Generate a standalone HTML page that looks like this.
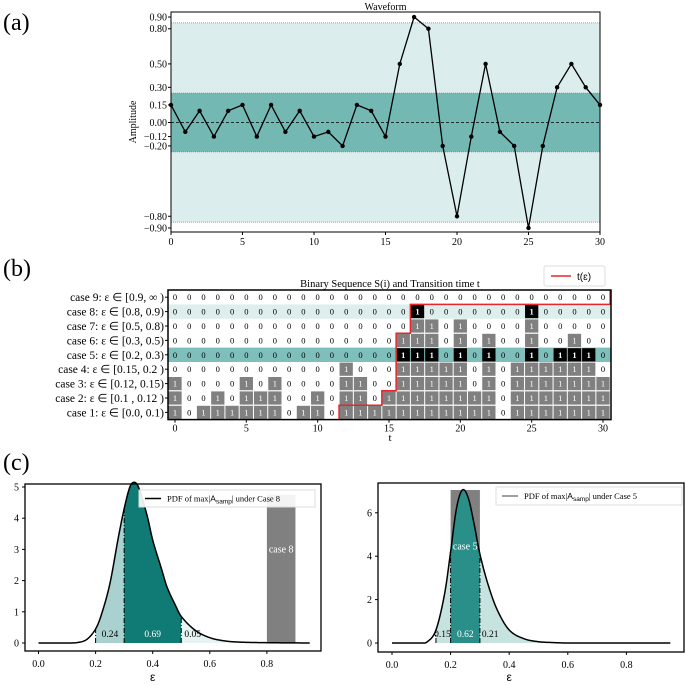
<!DOCTYPE html>
<html><head><meta charset="utf-8">
<style>
body{margin:0;background:#fff;}
svg{display:block;font-family:"Liberation Serif",serif;}
</style></head>
<body>
<svg id="fig" width="685" height="685" viewBox="0 0 685 685" xmlns="http://www.w3.org/2000/svg">
<text x="3" y="30" font-size="24">(a)</text>
<text x="3" y="276" font-size="24">(b)</text>
<text x="3" y="470" font-size="24">(c)</text>
<g id="pa"></g>
<g id="pb"></g>
<g id="pc1"></g>
<g id="pc2"></g>
</svg>
<script>
// ---- data (a)
const waveT = [0,1,2,3,4,5,6,7,8,9,10,11,12,13,14,15,16,17,18,19,20,21,22,23,24,25,26,27,28,29,30];
const waveA = [0.15,-0.08,0.1,-0.12,0.1,0.15,-0.12,0.15,-0.08,0.1,-0.12,-0.08,-0.2,0.15,0.1,-0.12,0.5,0.9,0.8,-0.2,-0.8,-0.12,0.5,-0.08,-0.2,-0.9,-0.2,0.3,0.5,0.3,0.15];
const waveYTicks = [0.9,0.8,0.5,0.3,0.15,0,-0.12,-0.2,-0.8,-0.9];
const waveYTickLabels = ["0.90","0.80","0.50","0.30","0.15","0.00","\u22120.12","\u22120.20","\u22120.80","\u22120.90"];
const waveXTicks = [0,5,10,15,20,25,30];
const innerBand = [-0.25,0.25];
const outerBand = [-0.85,0.85];
// ---- data (b)
const caseLabels = ["case 1: \u03b5 \u2208 [0.0, 0.1)","case 2: \u03b5 \u2208 [0.1 , 0.12 )","case 3: \u03b5 \u2208 [0.12, 0.15)","case 4: \u03b5 \u2208 [0.15,  0.2 )","case 5: \u03b5 \u2208 [0.2, 0.3)","case 6: \u03b5 \u2208 [0.3, 0.5)","case 7: \u03b5 \u2208 [0.5, 0.8)","case 8: \u03b5 \u2208 [0.8, 0.9)","case 9: \u03b5 \u2208 [0.9,  \u221e )"];
const seqRows = [
"1011111101101111111111101111111",
"1001011100101101111111101111111",
"1000010100001100111110101111111",
"0000000000001000111110101111110",
"0000000000000000111010100101110",
"0000000000000000111010100100100",
"0000000000000000011010000100000",
"0000000000000000010000000100000",
"0000000000000000000000000000000"];
const transitionT = [11.5,14.5,15.5,16.5,30.5];
const transitionRows = [1,2,6,8,9];
const seqXTicks = [0,5,10,15,20,25,30];
// ---- data (c)
const pdf8E = [0,0.1,0.14,0.17,0.2,0.22,0.25,0.28,0.3,0.32,0.335,0.35,0.38,0.4,0.43,0.45,0.48,0.5,0.55,0.6,0.65,0.7,0.8,0.95];
const pdf8V = [0,0,0.02,0.12,0.45,0.9,1.9,3.4,4.3,5.0,5.15,5.0,4.1,3.3,2.4,1.8,1.2,0.85,0.4,0.17,0.07,0.03,0.01,0];
const pdf8Mass = ["0.24","0.69","0.05"];
const pdf5E = [0,0.1,0.12,0.15,0.18,0.2,0.22,0.24,0.26,0.28,0.3,0.33,0.36,0.4,0.45,0.5,0.55,0.6,0.95];
const pdf5V = [0,0,0.05,0.6,2.3,4.2,6.2,7.05,6.7,5.5,4.1,2.6,1.5,0.6,0.2,0.06,0.02,0,0];
const pdf5Mass = ["0.15","0.62","0.21"];
const pdfXTicks = [0,0.2,0.4,0.6,0.8];

const NS="http://www.w3.org/2000/svg";
function mk(p,tag,at,txt){const e=document.createElementNS(NS,tag);for(const k in at)e.setAttribute(k,at[k]);if(txt!==undefined)e.textContent=txt;p.appendChild(e);return e;}

// ===== Panel a
(function(){
const g=document.getElementById('pa');
const x0=171,x1=600,yT=12,yB=232;
const X=t=>x0+(t-0)/30*(x1-x0);
const Y=a=>122.5-a*117.2;
let r;
r=mk(g,'rect',{x:x0,y:Y(outerBand[1]),width:x1-x0,height:Y(outerBand[0])-Y(outerBand[1]),fill:'#dbeeed'});

r=mk(g,'rect',{x:x0,y:Y(innerBand[1]),width:x1-x0,height:Y(innerBand[0])-Y(innerBand[1]),fill:'#74b8b4'});

[outerBand[0],outerBand[1],innerBand[0],innerBand[1]].forEach(v=>mk(g,'line',{x1:x0,x2:x1,y1:Y(v),y2:Y(v),stroke:'#4a9a95','stroke-width':0.8,'stroke-dasharray':'1,1'}));
mk(g,'line',{x1:x0,x2:x1,y1:Y(0),y2:Y(0),stroke:'#000','stroke-width':0.8,'stroke-dasharray':'3,2'});
const pts=waveT.map((t,i)=>X(t)+','+Y(waveA[i])).join(' ');
r=mk(g,'polyline',{points:pts,fill:'none',stroke:'#000','stroke-width':1.3});

waveT.forEach((t,i)=>{const c=mk(g,'circle',{cx:X(t),cy:Y(waveA[i]),r:2.2,fill:'#000'});
});
mk(g,'rect',{x:x0,y:yT,width:x1-x0,height:yB-yT,fill:'none',stroke:'#000','stroke-width':1});
waveYTicks.forEach((v,i)=>{mk(g,'line',{x1:x0-3,x2:x0,y1:Y(v),y2:Y(v),stroke:'#000'});
const t=mk(g,'text',{x:x0-4,y:Y(v)+3.5,'font-size':10,'text-anchor':'end'},waveYTickLabels[i]);
});
waveXTicks.forEach(v=>{mk(g,'line',{x1:X(v),x2:X(v),y1:yB,y2:yB+3,stroke:'#000'});
const t=mk(g,'text',{x:X(v),y:yB+13,'font-size':10,'text-anchor':'middle'},v);
});
let t=mk(g,'text',{x:x0+(x1-x0)/2,y:10,'font-size':10,'text-anchor':'middle'},'Waveform');

t=mk(g,'text',{x:0,y:0,'font-size':10,'text-anchor':'middle',transform:'translate(136,122) rotate(-90)'},'Amplitude');

})();

// ===== Panel b
(function(){
const g=document.getElementById('pb');
const x0=168,x1=611,yT=290,yB=419.6,rh=(yB-yT)/9;
const X=t=>175+t*(603-175)/30;
const rowTop=i=>yB-(i+1)*rh;
const cw=X(1)-X(0);
let e;
e=mk(g,'rect',{x:x0,y:rowTop(7),width:x1-x0,height:rh,fill:'#ddeeed'});

e=mk(g,'rect',{x:x0,y:rowTop(4),width:x1-x0,height:rh,fill:'#7fbfbb'});

seqRows.forEach((s,i)=>{
 for(let t=0;t<=30;t++){
  const v=s[t];const cx=X(t),cy=rowTop(i)+rh/2;
  if(v==='1'){
   const black=(i===4||i===7);
   const c=mk(g,'rect',{x:cx-cw/2+0.5,y:rowTop(i)+0.6,width:cw-1,height:rh-1.2,fill:black?'#000':'#808080'});
   
  }
  const tx=mk(g,'text',{x:cx,y:cy+3,'font-size':8.5,'text-anchor':'middle',fill:v==='1'?'#fff':'#000','font-weight':(v==='1'&&(i===4||i===7))?'bold':'normal'},v);
  
 }
 const lb=mk(g,'text',{x:x0-4,y:rowTop(i)+rh/2+4,'font-size':11.5,'text-anchor':'end'},caseLabels[i]);
 
 mk(g,'line',{x1:x0-3,x2:x0,y1:rowTop(i)+rh/2,y2:rowTop(i)+rh/2,stroke:'#000'});
});
let d='M'+X(transitionT[0])+','+yB;
transitionT.forEach((tt,k)=>{
 d+=' L'+X(tt)+','+(yB-transitionRows[k]*rh);
 if(k<transitionT.length-1) d+=' L'+X(transitionT[k+1])+','+(yB-transitionRows[k]*rh);
});
e=mk(g,'path',{d:d,fill:'none',stroke:'#e8262a','stroke-width':1.5});

mk(g,'rect',{x:x0,y:yT,width:x1-x0,height:yB-yT,fill:'none',stroke:'#000','stroke-width':1.5});
seqXTicks.forEach(v=>{mk(g,'line',{x1:X(v),x2:X(v),y1:yB,y2:yB+3,stroke:'#000'});
const t=mk(g,'text',{x:X(v),y:yB+12,'font-size':10,'text-anchor':'middle'},v);
});
let t=mk(g,'text',{x:390,y:287,'font-size':10.5,'text-anchor':'middle'},'Binary Sequence S(i) and Transition time t');

t=mk(g,'text',{x:390,y:441,'font-size':11,'text-anchor':'middle'},'t');

e=mk(g,'rect',{x:544,y:266,width:61,height:20,fill:'#fff',stroke:'#ddd',rx:2});

mk(g,'line',{x1:551,x2:571,y1:276,y2:276,stroke:'#e8262a','stroke-width':1.5});
t=mk(g,'text',{x:577,y:280,'font-size':10,'font-family':'Liberation Sans, sans-serif'},'t(\u025b)');

})();

// ===== Panel c
function pdfPanel(gid,cfg){
const g=document.getElementById(gid);
const X=e=>cfg.xz+e*cfg.xs, Y=v=>cfg.yz-v*cfg.ys;
const E=cfg.E,V=cfg.V;
const interp=e=>{for(let i=1;i<E.length;i++){if(e<=E[i]){
  const f=(e-E[i-1])/(E[i]-E[i-1]);
  const h=E[i]-E[i-1];
  const m0=i>1?(V[i]-V[i-2])/(E[i]-E[i-2])*h:(V[i]-V[i-1]);
  const m1=i<E.length-1?(V[i+1]-V[i-1])/(E[i+1]-E[i-1])*h:(V[i]-V[i-1]);
  const f2=f*f,f3=f2*f;
  const val=(2*f3-3*f2+1)*V[i-1]+(f3-2*f2+f)*m0+(-2*f3+3*f2)*V[i]+(f3-f2)*m1;
  return Math.max(0,val);}}return 0;};
const curvePath=(a,b)=>{let s='';const n=Math.max(10,Math.round((b-a)*400));for(let k=0;k<=n;k++){const e=a+(b-a)*k/n;s+=(k?' L':'M')+X(e).toFixed(2)+','+Y(interp(e)).toFixed(2);}return s;};
const area=(a,b,fill,name)=>{let d=curvePath(a,b).replace(/^M/,'M'+X(a)+','+Y(0)+' L');d+=' L'+X(b)+','+Y(0)+'Z';
 const p=mk(g,'path',{d:d,fill:fill});};
let e;
const drawBar=()=>{e=mk(g,'rect',{x:X(cfg.bar[0]),y:Y(cfg.barH),width:X(cfg.bar[1])-X(cfg.bar[0]),height:Y(0)-Y(cfg.barH),fill:'#808080'});
};
if(cfg.barFirst)drawBar();
cfg.regions.forEach(r=>area(r[0],r[1],r[2],'probability-region'));
if(!cfg.barFirst)drawBar();
cfg.cuts.forEach(c=>mk(g,'line',{x1:X(c),x2:X(c),y1:Y(0),y2:Y(interp(c)),stroke:'#000','stroke-width':1,'stroke-dasharray':'5,2,1,2'}));
e=mk(g,'path',{d:curvePath(E[0],E[E.length-1]),fill:'none',stroke:'#000','stroke-width':1.5});

cfg.mass.forEach((m,i)=>{const t=mk(g,'text',{x:X(cfg.massX[i]),y:cfg.massY,'font-size':9.5,'text-anchor':'middle',fill:cfg.massFill[i]},m);
});
let t=mk(g,'text',{x:X(cfg.barLabel[0]),y:Y(cfg.barLabel[1]),'font-size':10,'text-anchor':'middle',fill:'#fff'},cfg.barText);

mk(g,'rect',{x:cfg.box[0],y:cfg.box[1],width:cfg.box[2]-cfg.box[0],height:cfg.box[3]-cfg.box[1],fill:'none',stroke:'#000','stroke-width':1.3});
cfg.yTicks.forEach(v=>{mk(g,'line',{x1:cfg.box[0]-3,x2:cfg.box[0],y1:Y(v),y2:Y(v),stroke:'#000'});
const tt=mk(g,'text',{x:cfg.box[0]-6,y:Y(v)+3.5,'font-size':10,'text-anchor':'end'},v);
});
pdfXTicks.forEach(v=>{mk(g,'line',{x1:X(v),x2:X(v),y1:cfg.box[3],y2:cfg.box[3]+3,stroke:'#000'});
const tt=mk(g,'text',{x:X(v),y:cfg.box[3]+16,'font-size':10,'text-anchor':'middle'},v.toFixed(1));
});
t=mk(g,'text',{x:X(0.4),y:681,'font-size':12,'text-anchor':'middle','font-family':'Liberation Sans, sans-serif'},'\u03b5');

const L=cfg.legend;
e=mk(g,'rect',{x:L[0],y:L[1],width:L[2]-L[0],height:L[3]-L[1],fill:'#fff','fill-opacity':0.9,stroke:'#ddd'});

mk(g,'line',{x1:L[0]+6,x2:L[0]+22,y1:(L[1]+L[3])/2,y2:(L[1]+L[3])/2,stroke:cfg.legendColor,'stroke-width':1.5});
t=mk(g,'text',{x:L[0]+28,y:(L[1]+L[3])/2+3,'font-size':8.5});

t.innerHTML='PDF of max|<tspan font-family="Liberation Sans, sans-serif">A</tspan><tspan font-size="6.5" dy="2" font-family="Liberation Sans, sans-serif">samp</tspan><tspan dy="-2">| under Case '+cfg.caseN+'</tspan>';
}
pdfPanel('pc1',{E:pdf8E,V:pdf8V,mass:pdf8Mass,xz:38.5,xs:285.5,yz:643,ys:31.2,
 regions:[[0.2,0.3,'#a9d1cf'],[0.3,0.5,'#0f7b74'],[0.5,0.95,'#e6f3f2']],cuts:[0.2,0.3,0.5],
 massX:[0.25,0.4,0.54],massY:637,massFill:['#000','#fff','#000'],
 bar:[0.8,0.9],barH:4.75,barFirst:false,barText:'case 8',barLabel:[0.85,2.9],
 box:[25,484,321,651],yTicks:[0,1,2,3,4,5],legend:[139,490,315,507],legendColor:'#000',caseN:8});
pdfPanel('pc2',{E:pdf5E,V:pdf5V,mass:pdf5Mass,xz:392,xs:293,yz:643,ys:21.7,
 regions:[[0.15,0.2,'#c7e3e0'],[0.2,0.3,'#2a8f89'],[0.3,0.95,'#c7e3e0']],cuts:[0.15,0.2,0.3],
 massX:[0.172,0.25,0.335],massY:637,massFill:['#000','#fff','#000'],
 bar:[0.2,0.3],barH:7.05,barFirst:true,barText:'case 5',barLabel:[0.25,4.3],
 box:[378,483,684,652],yTicks:[0,2,4,6],legend:[496,487,682,505],legendColor:'#808080',caseN:5});
</script>
</body></html>
